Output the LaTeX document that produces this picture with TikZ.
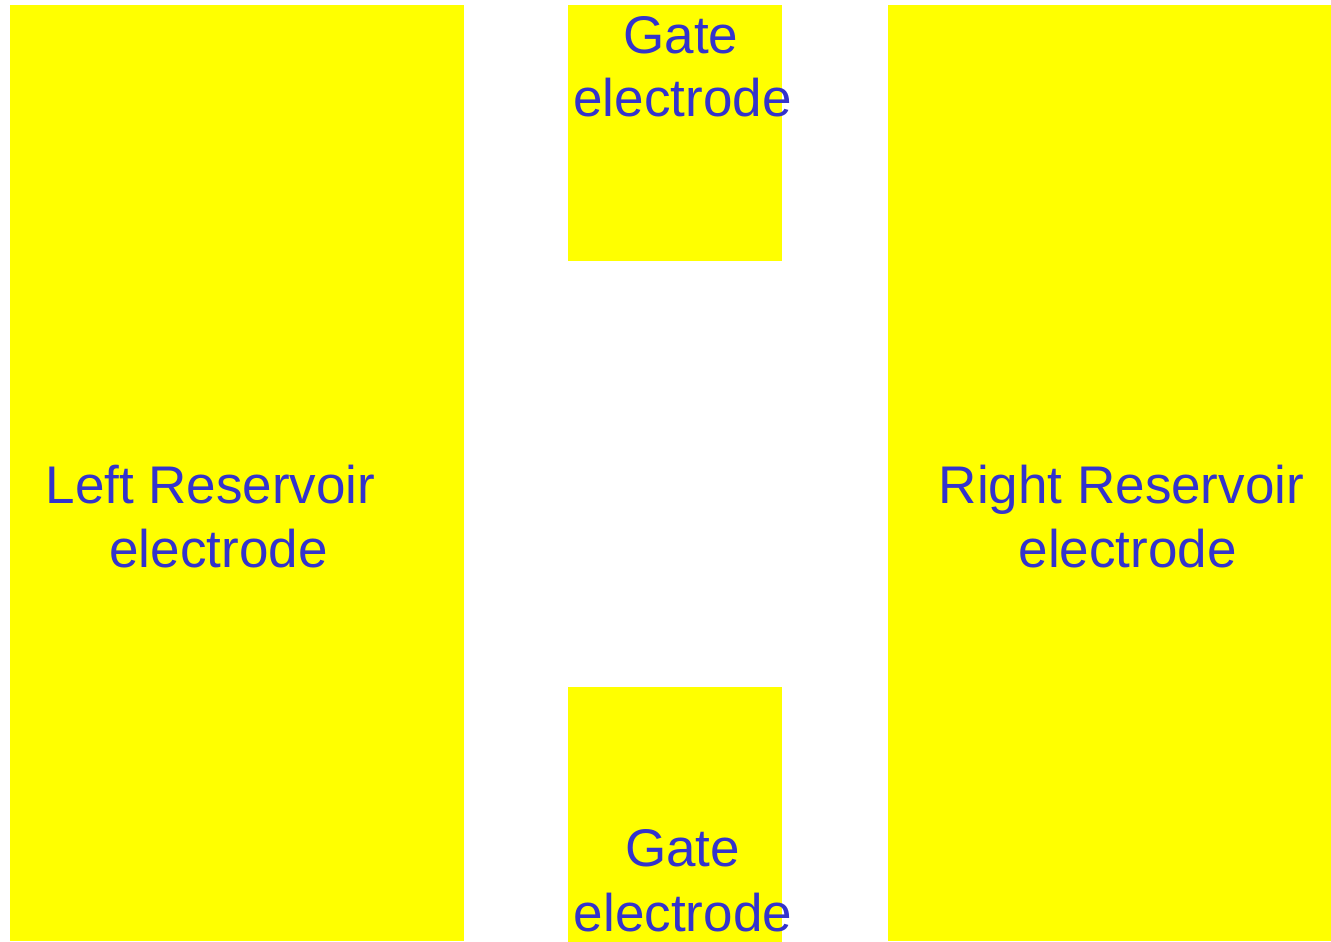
\documentclass[tikz,border=0pt]{standalone}
\usepackage{fontspec}
\setmainfont{Liberation Sans}
\definecolor{elyellow}{HTML}{FFFF00}
\definecolor{eltext}{HTML}{3333CC}
\begin{document}
\begin{tikzpicture}[x=1pt,y=-1pt,
  pad/.style={fill=elyellow, draw=none, inner sep=0pt, outer sep=0pt, anchor=north west},
  lbl/.style={text=eltext, font=\fontsize{53}{62}\selectfont, anchor=base, inner sep=0pt}]
\useasboundingbox (0,0) rectangle (1331,942);
\node[pad, minimum width=454pt, minimum height=936pt] (left) at (10,5) {};
\node[pad, minimum width=214pt, minimum height=256pt] (gtop) at (568,5) {};
\node[pad, minimum width=214pt, minimum height=255pt] (gbot) at (568,687) {};
\node[pad, minimum width=443pt, minimum height=936pt] (right) at (888,5) {};
\node[lbl] (lt1) at (210.5,503) {Left Reservoir};
\node[lbl] (lt2) at (218.5,567) {electrode};
\node[lbl] (rt1) at (1121.5,503) {Right Reservoir};
\node[lbl] (rt2) at (1127.7,567) {electrode};
\node[lbl] (gt1) at (681,54) {Gate};
\node[lbl] (gt2) at (682.5,116) {electrode};
\node[lbl] (gb1) at (682.5,866) {Gate};
\node[lbl] (gb2) at (683,931) {electrode};
\end{tikzpicture}
\end{document}
